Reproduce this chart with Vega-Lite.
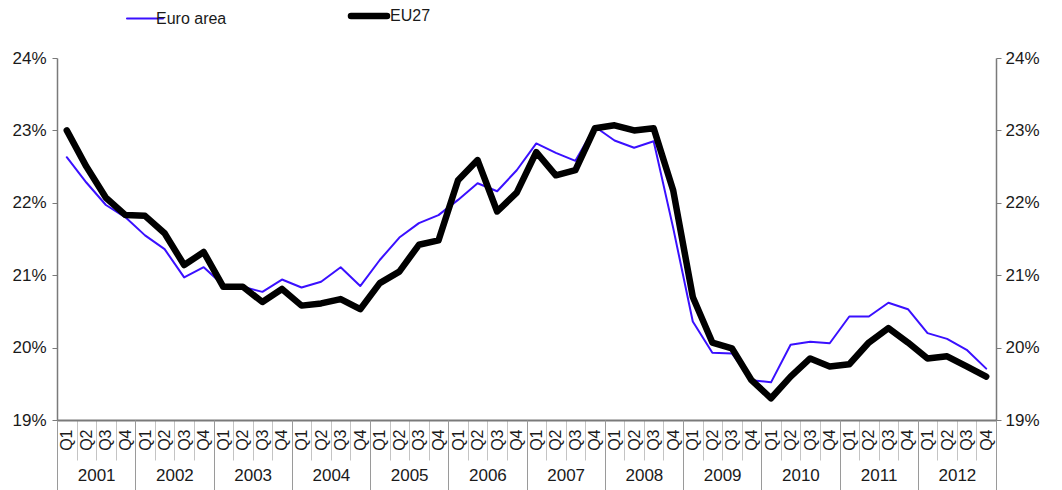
{
  "$schema": "https://vega.github.io/schema/vega-lite/v6.json",
  "width": 939,
  "height": 362,
  "autosize": {"type": "none"},
  "padding": {"left": 57, "top": 58, "right": 66, "bottom": 70},
  "config": {
    "view": {"stroke": "transparent"},
    "font": "Liberation Sans",
    "axis": {"labelFont": "Liberation Sans", "labelColor": "#1a1a1a", "grid": false, "title": null}
  },
  "data": {"values": [
    {"q":"2001 Q1","s":"Euro area","v":22.63},{"q":"2001 Q2","s":"Euro area","v":22.28},{"q":"2001 Q3","s":"Euro area","v":21.97},{"q":"2001 Q4","s":"Euro area","v":21.80},
    {"q":"2002 Q1","s":"Euro area","v":21.55},{"q":"2002 Q2","s":"Euro area","v":21.36},{"q":"2002 Q3","s":"Euro area","v":20.97},{"q":"2002 Q4","s":"Euro area","v":21.11},
    {"q":"2003 Q1","s":"Euro area","v":20.86},{"q":"2003 Q2","s":"Euro area","v":20.84},{"q":"2003 Q3","s":"Euro area","v":20.77},{"q":"2003 Q4","s":"Euro area","v":20.94},
    {"q":"2004 Q1","s":"Euro area","v":20.83},{"q":"2004 Q2","s":"Euro area","v":20.91},{"q":"2004 Q3","s":"Euro area","v":21.11},{"q":"2004 Q4","s":"Euro area","v":20.85},
    {"q":"2005 Q1","s":"Euro area","v":21.21},{"q":"2005 Q2","s":"Euro area","v":21.52},{"q":"2005 Q3","s":"Euro area","v":21.72},{"q":"2005 Q4","s":"Euro area","v":21.83},
    {"q":"2006 Q1","s":"Euro area","v":22.04},{"q":"2006 Q2","s":"Euro area","v":22.27},{"q":"2006 Q3","s":"Euro area","v":22.16},{"q":"2006 Q4","s":"Euro area","v":22.45},
    {"q":"2007 Q1","s":"Euro area","v":22.82},{"q":"2007 Q2","s":"Euro area","v":22.69},{"q":"2007 Q3","s":"Euro area","v":22.58},{"q":"2007 Q4","s":"Euro area","v":23.05},
    {"q":"2008 Q1","s":"Euro area","v":22.86},{"q":"2008 Q2","s":"Euro area","v":22.76},{"q":"2008 Q3","s":"Euro area","v":22.85},{"q":"2008 Q4","s":"Euro area","v":21.65},
    {"q":"2009 Q1","s":"Euro area","v":20.36},{"q":"2009 Q2","s":"Euro area","v":19.93},{"q":"2009 Q3","s":"Euro area","v":19.92},{"q":"2009 Q4","s":"Euro area","v":19.55},
    {"q":"2010 Q1","s":"Euro area","v":19.52},{"q":"2010 Q2","s":"Euro area","v":20.04},{"q":"2010 Q3","s":"Euro area","v":20.08},{"q":"2010 Q4","s":"Euro area","v":20.06},
    {"q":"2011 Q1","s":"Euro area","v":20.43},{"q":"2011 Q2","s":"Euro area","v":20.43},{"q":"2011 Q3","s":"Euro area","v":20.62},{"q":"2011 Q4","s":"Euro area","v":20.53},
    {"q":"2012 Q1","s":"Euro area","v":20.20},{"q":"2012 Q2","s":"Euro area","v":20.12},{"q":"2012 Q3","s":"Euro area","v":19.97},{"q":"2012 Q4","s":"Euro area","v":19.71},
    {"q":"2001 Q1","s":"EU27","v":23.00},{"q":"2001 Q2","s":"EU27","v":22.50},{"q":"2001 Q3","s":"EU27","v":22.07},{"q":"2001 Q4","s":"EU27","v":21.83},
    {"q":"2002 Q1","s":"EU27","v":21.82},{"q":"2002 Q2","s":"EU27","v":21.58},{"q":"2002 Q3","s":"EU27","v":21.14},{"q":"2002 Q4","s":"EU27","v":21.32},
    {"q":"2003 Q1","s":"EU27","v":20.84},{"q":"2003 Q2","s":"EU27","v":20.84},{"q":"2003 Q3","s":"EU27","v":20.63},{"q":"2003 Q4","s":"EU27","v":20.81},
    {"q":"2004 Q1","s":"EU27","v":20.58},{"q":"2004 Q2","s":"EU27","v":20.61},{"q":"2004 Q3","s":"EU27","v":20.67},{"q":"2004 Q4","s":"EU27","v":20.53},
    {"q":"2005 Q1","s":"EU27","v":20.89},{"q":"2005 Q2","s":"EU27","v":21.05},{"q":"2005 Q3","s":"EU27","v":21.42},{"q":"2005 Q4","s":"EU27","v":21.48},
    {"q":"2006 Q1","s":"EU27","v":22.31},{"q":"2006 Q2","s":"EU27","v":22.59},{"q":"2006 Q3","s":"EU27","v":21.88},{"q":"2006 Q4","s":"EU27","v":22.14},
    {"q":"2007 Q1","s":"EU27","v":22.70},{"q":"2007 Q2","s":"EU27","v":22.38},{"q":"2007 Q3","s":"EU27","v":22.45},{"q":"2007 Q4","s":"EU27","v":23.03},
    {"q":"2008 Q1","s":"EU27","v":23.07},{"q":"2008 Q2","s":"EU27","v":23.00},{"q":"2008 Q3","s":"EU27","v":23.03},{"q":"2008 Q4","s":"EU27","v":22.17},
    {"q":"2009 Q1","s":"EU27","v":20.70},{"q":"2009 Q2","s":"EU27","v":20.07},{"q":"2009 Q3","s":"EU27","v":19.99},{"q":"2009 Q4","s":"EU27","v":19.55},
    {"q":"2010 Q1","s":"EU27","v":19.30},{"q":"2010 Q2","s":"EU27","v":19.60},{"q":"2010 Q3","s":"EU27","v":19.85},{"q":"2010 Q4","s":"EU27","v":19.74},
    {"q":"2011 Q1","s":"EU27","v":19.77},{"q":"2011 Q2","s":"EU27","v":20.07},{"q":"2011 Q3","s":"EU27","v":20.27},{"q":"2011 Q4","s":"EU27","v":20.07},
    {"q":"2012 Q1","s":"EU27","v":19.85},{"q":"2012 Q2","s":"EU27","v":19.88},{"q":"2012 Q3","s":"EU27","v":19.74},{"q":"2012 Q4","s":"EU27","v":19.60}
  ]},
  "layer": [
    {
      "transform": [{"filter": "datum.s === 'Euro area'"}],
      "mark": {"type": "line", "strokeWidth": 2, "strokeJoin": "round", "strokeCap": "round"},
      "encoding": {
        "x": {"field": "q", "type": "ordinal", "sort": null,
          "scale": {"type": "band", "paddingInner": 0, "paddingOuter": 0},
          "axis": {"orient": "bottom", "tickBand": "extent", "tickSize": 40, "tickColor": "#c4c4c4", "tickWidth": 1,
            "domainColor": "#7a7a7a", "domainWidth": 2,
            "labelAngle": 270, "labelAlign": "right", "labelBaseline": "middle", "labelPadding": -31,
            "labelFontSize": 16, "labelOverlap": false, "labelFlush": false,
            "labelExpr": "isString(datum.value) ? split(datum.value, ' ')[1] : ''"}},
        "y": {"field": "v", "type": "quantitative",
          "scale": {"domain": [19, 24], "nice": false, "zero": false},
          "axis": {"orient": "left", "values": [19, 20, 21, 22, 23, 24], "labelExpr": "datum.value + '%'",
            "labelFontSize": 17, "tickSize": 5, "labelPadding": 6, "tickColor": "#7a7a7a", "domainColor": "#7a7a7a", "domainWidth": 1.5}},
        "color": {"field": "s", "type": "nominal",
          "scale": {"domain": ["Euro area", "EU27"], "range": ["#3a10ff", "#000000"]},
          "legend": {"orient": "none", "legendX": 80, "legendY": -50, "direction": "horizontal", "title": null,
            "symbolType": "stroke", "symbolSize": 1300, "labelFontSize": 16, "labelOffset": 3, "columnPadding": 110,
            "labelFont": "Liberation Sans", "labelColor": "#1a1a1a",
            "encode": {
              "symbols": {"update": {"strokeWidth": {"signal": "datum.value === 'EU27' ? 6.5 : 2"}, "strokeCap": {"value": "round"}}},
              "labels": {"update": {"dx": {"signal": "datum.value === 'EU27' ? 10 : 0"}}}
            }}}
      }
    },
    {
      "transform": [{"filter": "datum.s === 'EU27'"}],
      "mark": {"type": "line", "strokeWidth": 6.5, "strokeJoin": "round", "strokeCap": "round"},
      "encoding": {
        "x": {"field": "q", "type": "ordinal", "sort": null,
          "axis": {"orient": "bottom", "tickBand": "extent", "tickSize": 72, "tickColor": "#9a9a9a", "tickWidth": 1,
            "tickOpacity": {"condition": {"test": "!isString(datum.value) || indexof(datum.value, 'Q4') >= 0", "value": 1}, "value": 0},
            "domain": false, "labelAngle": 0, "labelAlign": "center", "labelBaseline": "top", "labelPadding": -25,
            "labelOffset": 9.8, "labelFontSize": 17, "labelOverlap": false, "labelFlush": false,
            "labelExpr": "isString(datum.value) && indexof(datum.value, 'Q2') >= 0 ? split(datum.value, ' ')[0] : ''"}},
        "y": {"field": "v", "type": "quantitative",
          "axis": {"orient": "right", "values": [19, 20, 21, 22, 23, 24], "labelExpr": "datum.value + '%'",
            "labelFontSize": 17, "tickSize": 5, "labelPadding": 4, "tickColor": "#7a7a7a", "domainColor": "#7a7a7a", "domainWidth": 1.5}},
        "color": {"field": "s", "type": "nominal"}
      }
    }
  ],
  "resolve": {"axis": {"x": "independent", "y": "independent"}}
}
